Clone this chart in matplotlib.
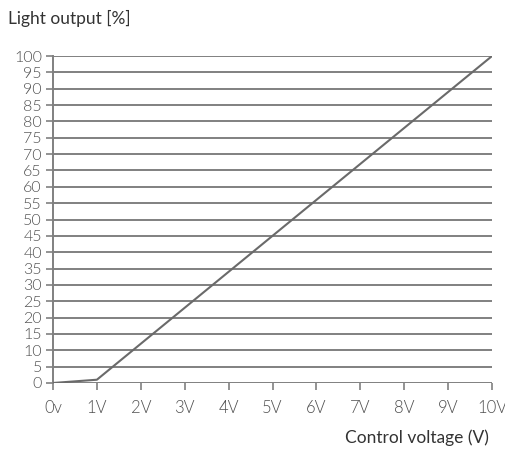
import numpy as np
import matplotlib.pyplot as plt

# control voltage (V) vs light output (%)
voltage = [0, 1, 10]
output = [0, 1, 100]
xticks = list(range(0, 11))
xlabels = ['0v'] + ['%dV' % v for v in range(1, 11)]
yticks = list(range(0, 101, 5))

plt.rcParams['font.family'] = ['Lato', 'DejaVu Sans']

fig = plt.figure(figsize=(5.06, 4.51), dpi=100)
ax = fig.add_axes([0.1047, 0.1508, 0.8677, 0.725])

gray = '#808080'
for y in yticks:
    ax.axhline(y, color=gray, lw=1.4, zorder=1)
ax.plot(voltage, output, color='#6a6a6a', lw=1.5, zorder=3)

ax.set_xlim(0, 10)
ax.set_ylim(0, 100)
ax.set_xticks(xticks)
ax.set_xticklabels(xlabels)
ax.set_yticks(yticks)

for s in ['top', 'right', 'bottom']:
    ax.spines[s].set_visible(False)
ax.spines['left'].set_color(gray)
ax.spines['left'].set_linewidth(1.4)

ax.tick_params(axis='both', color=gray, width=1.2, length=5)
ax.tick_params(axis='both', labelcolor='#505050')
ax.tick_params(axis='x', pad=7, labelsize=12)
ax.tick_params(axis='y', pad=3, labelsize=11.5)
for lab in ax.get_xticklabels() + ax.get_yticklabels():
    lab.set_fontweight(300)

fig.text(0.016, 0.96, 'Light output [%]', fontsize=12.5, color='#333333',
         ha='left', va='center')
fig.text(0.966, 0.029, 'Control voltage (V)', fontsize=12.5, color='#333333',
         ha='right', va='center')

plt.savefig('out.png', dpi=100)
